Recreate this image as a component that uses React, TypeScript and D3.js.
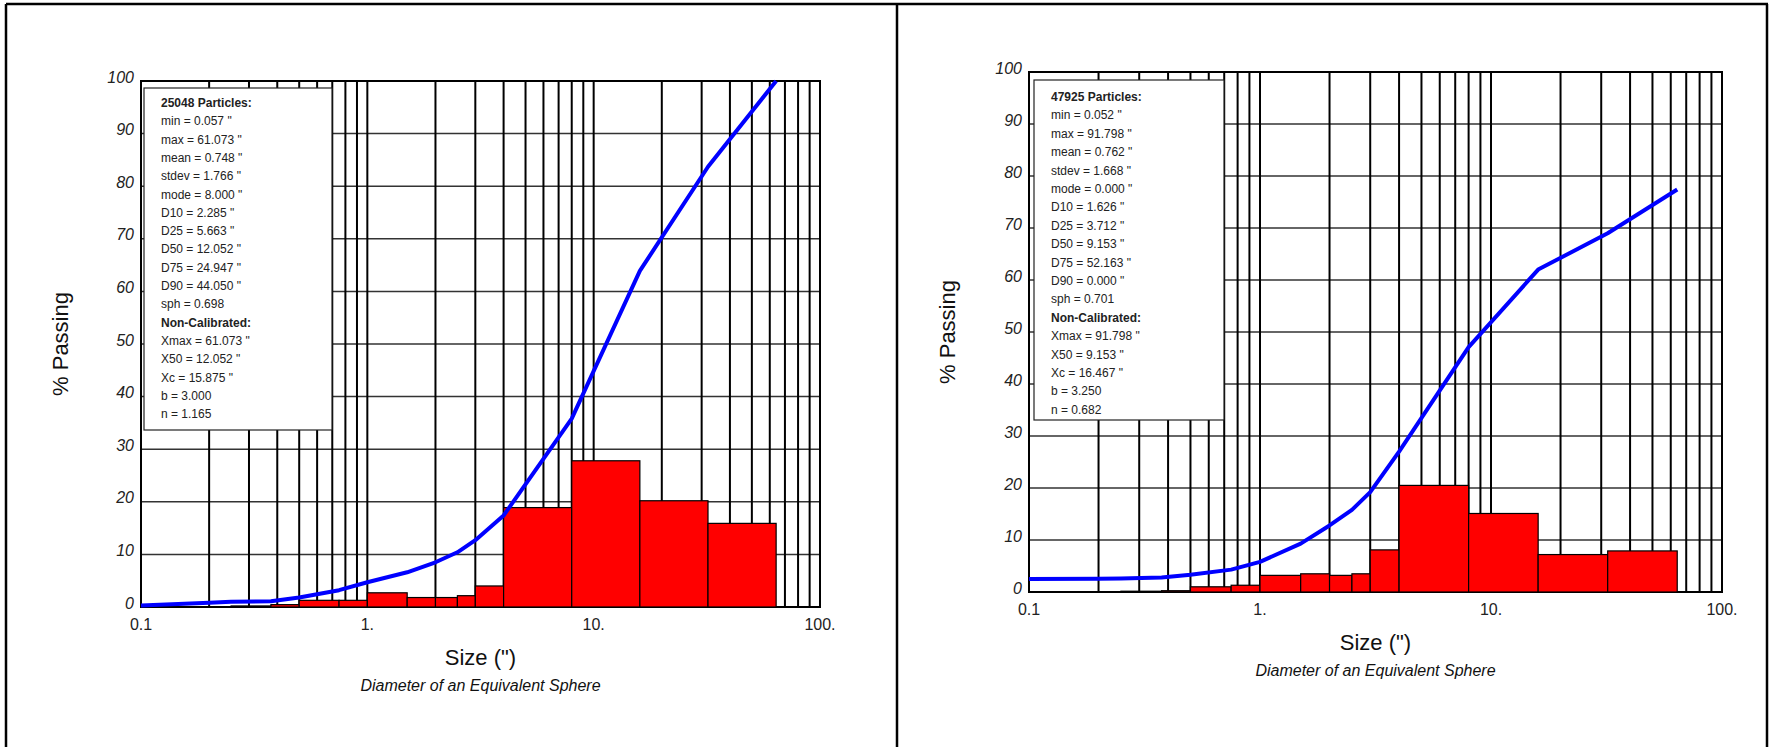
import React from 'react';
import { scaleLog, scaleLinear, line, range } from 'd3';

// sieve bin edges (inches), shared by both samples
const binEdges = [0.25, 0.375, 0.5, 0.75, 1, 1.5, 2, 2.5, 3, 4, 8, 16, 32, 64];

// % retained in each bin
const leftBars = [0.2, 0.45, 1.27, 1.27, 2.7, 1.8, 1.8, 2.15, 4.0, 18.9, 27.8, 20.2, 15.9];
const rightBars = [0.15, 0.25, 1.0, 1.3, 3.2, 3.5, 3.2, 3.5, 8.1, 20.5, 15.1, 7.2, 7.9];

// cumulative % passing curve
const curveSizes = [0.1, 0.2, 0.25, 0.375, 0.5, 0.75, 1, 1.5, 2, 2.5, 3, 4, 8, 16, 32, 64];
const leftPassing = [0.3, 0.8, 1.0, 1.1, 1.8, 3.2, 4.7, 6.6, 8.5, 10.4, 12.7, 17.4, 35.8, 63.9, 83.7, 100];
const rightPassing = [2.5, 2.55, 2.6, 2.8, 3.3, 4.3, 5.8, 9.3, 12.8, 15.8, 19.2, 27, 47.1, 62, 69, 77.4];

const xTickValues = [0.1, 1, 10, 100];
const xTickLabels = ['0.1', '1.', '10.', '100.'];
const yTickValues = range(0, 101, 10);

const leftStats = [
  '25048 Particles:', 'min = 0.057 "', 'max = 61.073 "', 'mean = 0.748 "', 'stdev = 1.766 "',
  'mode = 8.000 "', 'D10 = 2.285 "', 'D25 = 5.663 "', 'D50 = 12.052 "', 'D75 = 24.947 "',
  'D90 = 44.050 "', 'sph = 0.698', 'Non-Calibrated:', 'Xmax = 61.073 "', 'X50 = 12.052 "',
  'Xc = 15.875 "', 'b = 3.000', 'n = 1.165'
];
const rightStats = [
  '47925 Particles:', 'min = 0.052 "', 'max = 91.798 "', 'mean = 0.762 "', 'stdev = 1.668 "',
  'mode = 0.000 "', 'D10 = 1.626 "', 'D25 = 3.712 "', 'D50 = 9.153 "', 'D75 = 52.163 "',
  'D90 = 0.000 "', 'sph = 0.701', 'Non-Calibrated:', 'Xmax = 91.798 "', 'X50 = 9.153 "',
  'Xc = 16.467 "', 'b = 3.250', 'n = 0.682'
];
const boldLines = [0, 12];

// minor log grid: 0.2..0.9, 1..9, 10..90, 100
const gridValues = [0.1, 1, 10].flatMap(d => range(1, 10).map(k => +(d * k).toPrecision(3))).filter(v => v > 0.1).concat([100]);

const font = 'Arial, "Liberation Sans", sans-serif';

const Chart = ({ x0, x1, y0, y1, bars, passing, stats, box, labelX }) => {
  const xScale = scaleLog().domain([0.1, 100]).range([x0, x1]);
  const yScale = scaleLinear().domain([0, 100]).range([y1, y0]);

  const curve = line()
    .x((d, i) => xScale(curveSizes[i]))
    .y(d => yScale(d));

  const cx = (x0 + x1) / 2;
  const cy = (y0 + y1) / 2;

  return (
    <g fontFamily={font}>
      {yTickValues.map(v => (
        <line key={'h' + v} x1={x0} x2={x1} y1={yScale(v)} y2={yScale(v)} stroke="#333" strokeWidth={1.5} />
      ))}
      {gridValues.map(v => (
        <line key={'v' + v} x1={xScale(v)} x2={xScale(v)} y1={y0} y2={y1} stroke="#000" strokeWidth={2} />
      ))}
      <rect x={x0} y={y0} width={x1 - x0} height={y1 - y0} fill="none" stroke="#000" strokeWidth={2} />

      {bars.map((v, i) => (
        <rect key={'b' + i}
          x={xScale(binEdges[i])} y={yScale(v)}
          width={xScale(binEdges[i + 1]) - xScale(binEdges[i])}
          height={yScale(0) - yScale(v)}
          fill="#ff0000" stroke="#000" strokeWidth={1.2} />
      ))}

      <path d={curve(passing)} fill="none" stroke="#0000ff" strokeWidth={4} strokeLinejoin="round" />

      <rect x={box.x} y={box.y} width={box.w} height={box.h} fill="#fff" stroke="#222" strokeWidth={1.2} />
      {stats.map((t, i) => (
        <text key={'s' + i} x={box.x + 17} y={box.top + i * box.step} fontSize={12}
          fontWeight={boldLines.includes(i) ? 'bold' : 'normal'} fill="#222">{t}</text>
      ))}

      {yTickValues.map(v => (
        <text key={'yt' + v} x={x0 - 7} y={yScale(v)} dy="0.1em" textAnchor="end" fontSize={16}
          fontStyle="italic" fill="#222">{v}</text>
      ))}
      {xTickValues.map((v, i) => (
        <text key={'xt' + v} x={xScale(v)} y={y1 + 23} textAnchor="middle" fontSize={16} fill="#222">{xTickLabels[i]}</text>
      ))}

      <text transform={`translate(${labelX}, ${cy}) rotate(-90)`} textAnchor="middle" fontSize={22} fill="#111">% Passing</text>
      <text x={cx} y={y1 + 58} textAnchor="middle" fontSize={22} fill="#111">Size (")</text>
      <text x={cx} y={y1 + 84} textAnchor="middle" fontSize={16} fontStyle="italic" fill="#111">Diameter of an Equivalent Sphere</text>
    </g>
  );
};

export default function App() {
  return (
    <svg width={1769} height={747} style={{ position: 'absolute', left: 0, top: 0, background: '#fff' }}>
      <rect x={0} y={0} width={1769} height={747} fill="#fff" />
      {/* table borders */}
      <line x1={6} x2={1768} y1={4} y2={4} stroke="#000" strokeWidth={2.5} />
      <line x1={6} x2={6} y1={4} y2={747} stroke="#000" strokeWidth={2.5} />
      <line x1={897} x2={897} y1={4} y2={747} stroke="#000" strokeWidth={2.5} />
      <line x1={1767} x2={1767} y1={4} y2={747} stroke="#000" strokeWidth={2.5} />

      <Chart x0={141} x1={820} y0={81} y1={607} bars={leftBars} passing={leftPassing} stats={leftStats}
        box={{ x: 144, y: 88, w: 188, h: 342, top: 107, step: 18.3 }} labelX={68} />
      <Chart x0={1029} x1={1722} y0={72} y1={592} bars={rightBars} passing={rightPassing} stats={rightStats}
        box={{ x: 1034, y: 80, w: 190, h: 340, top: 101, step: 18.4 }} labelX={955} />
    </svg>
  );
}
